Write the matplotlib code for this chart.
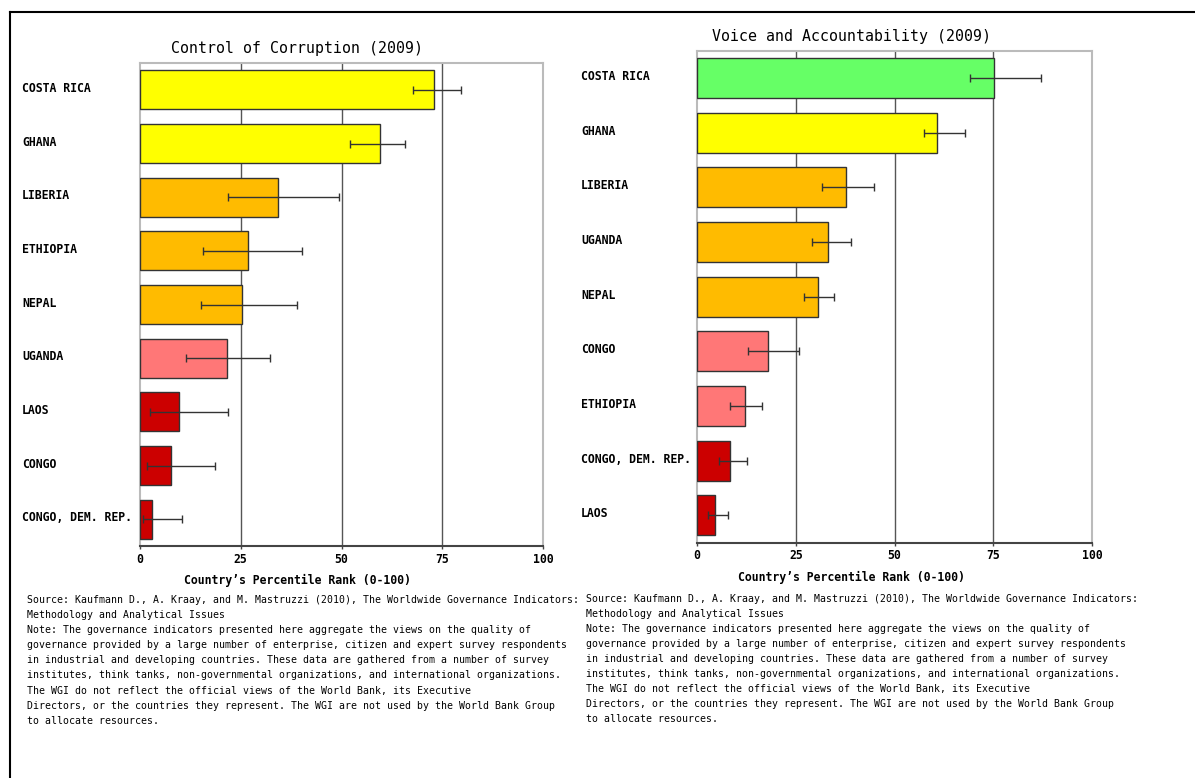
import matplotlib
matplotlib.use("Agg")
import matplotlib.pyplot as plt
from matplotlib.lines import Line2D
from matplotlib.transforms import blended_transform_factory, ScaledTranslation

W, H, DPI = 1195, 778, 100

# Control of Corruption (2009): percentile rank with margin-of-error bounds
cc_countries = ["COSTA RICA", "GHANA", "LIBERIA", "ETHIOPIA", "NEPAL",
                "UGANDA", "LAOS", "CONGO", "CONGO, DEM. REP."]
cc_rank = [73.0, 59.6, 34.2, 26.7, 25.2, 21.5, 9.7, 7.6, 2.9]
cc_low = [67.8, 52.1, 21.8, 15.6, 15.1, 11.3, 2.4, 1.8, 0.8]
cc_high = [79.7, 65.8, 49.4, 40.2, 38.9, 32.3, 21.8, 18.6, 10.3]

# Voice and Accountability (2009)
va_countries = ["COSTA RICA", "GHANA", "LIBERIA", "UGANDA", "NEPAL",
                "CONGO", "ETHIOPIA", "CONGO, DEM. REP.", "LAOS"]
va_rank = [75.3, 60.7, 37.8, 33.1, 30.6, 17.9, 12.2, 8.4, 4.5]
va_low = [69.1, 57.5, 31.7, 29.1, 27.1, 12.8, 8.4, 5.5, 2.7]
va_high = [87.0, 67.9, 44.7, 39.0, 34.8, 25.8, 16.4, 12.7, 7.9]

x_ticks = [0, 25, 50, 75, 100]
axis_label = "Country\u2019s Percentile Rank (0-100)"

note_lines = [
    "Source: Kaufmann D., A. Kraay, and M. Mastruzzi (2010), The Worldwide Governance Indicators:",
    "Methodology and Analytical Issues",
    "Note: The governance indicators presented here aggregate the views on the quality of",
    "governance provided by a large number of enterprise, citizen and expert survey respondents",
    "in industrial and developing countries. These data are gathered from a number of survey",
    "institutes, think tanks, non-governmental organizations, and international organizations.",
    "The WGI do not reflect the official views of the World Bank, its Executive",
    "Directors, or the countries they represent. The WGI are not used by the World Bank Group",
    "to allocate resources.",
]

# percentile bands and their colours
band_edges = [10, 25, 50, 75]
band_colors = ["#CC0000", "#FF7777", "#FFBB00", "#FFFF00", "#66FF66"]

MONO = "DejaVu Sans Mono"


def band_color(v):
    for edge, c in zip(band_edges, band_colors):
        if v < edge:
            return c
    return band_colors[-1]


def px(x, y):
    return x / W, 1 - y / H


fig = plt.figure(figsize=(W / DPI, H / DPI), dpi=DPI)
fig.patch.set_facecolor("white")


def draw_panel(rect, countries, rank, low, high, title, title_xy,
               xlabel_xy, label_x, notes_xy):
    ax = fig.add_axes(rect)
    n = len(countries)
    pos = list(range(n))
    colors = [band_color(v) for v in rank]
    ax.barh(pos, rank, height=0.73, color=colors, edgecolor="#333333",
            linewidth=1.0, zorder=3)
    err = [[r - lo for r, lo in zip(rank, low)],
           [hi - r for r, hi in zip(rank, high)]]
    ax.errorbar(rank, pos, xerr=err, fmt="none", ecolor="#333333",
                elinewidth=1.0, capsize=2.6, capthick=1.0, zorder=4)
    for t in x_ticks[1:-1]:
        ax.axvline(t, color="#555555", lw=1.0, zorder=1)
    ax.set_xlim(x_ticks[0], x_ticks[-1])
    ax.set_ylim(n - 0.5, -0.5)
    ax.set_xticks(x_ticks)
    ax.set_xticklabels([str(t) for t in x_ticks], fontfamily=MONO,
                       fontweight="bold", fontsize=8.3)
    ax.set_yticks([])
    ax.tick_params(axis="x", direction="out", length=2.2, width=1.0,
                   color="#444444", pad=2.6)
    for side in ("top", "right", "left"):
        ax.spines[side].set_color("#BBBBBB")
        ax.spines[side].set_linewidth(1.5)
    ax.spines["bottom"].set_color("#444444")
    ax.spines["bottom"].set_linewidth(1.5)

    tr = blended_transform_factory(fig.transFigure, ax.transData) + \
        ScaledTranslation(0, 1.5 / DPI, fig.dpi_scale_trans)
    for i, name in enumerate(countries):
        ax.text(label_x / W, i, name, transform=tr, ha="left", va="center",
                fontfamily=MONO, fontweight="bold", fontsize=8.3)

    fig.text(*px(*title_xy), title, ha="center", va="center",
             fontfamily=MONO, fontsize=10.7)
    fig.text(*px(*xlabel_xy), axis_label, ha="center", va="center",
             fontfamily=MONO, fontweight="bold", fontsize=8.3)
    nx, ny = notes_xy
    for k, line in enumerate(note_lines):
        fig.text(*px(nx, ny + 15.1 * k), line, ha="left", va="center",
                 fontfamily=MONO, fontsize=7.1)
    return ax


draw_panel([140 / W, 1 - 546 / H, 403 / W, 483 / H],
           cc_countries, cc_rank, cc_low, cc_high,
           "Control of Corruption (2009)", (297, 49), (297, 580), 22,
           (27, 600))

draw_panel([697 / W, 1 - 542.7 / H, 395 / W, 492 / H],
           va_countries, va_rank, va_low, va_high,
           "Voice and Accountability (2009)", (851, 36), (851, 577), 581,
           (586, 598.5))

# page frame
fig.add_artist(Line2D([10 / W, 10 / W], [0, 1 - 12 / H], color="black",
                      lw=1.5, transform=fig.transFigure))
fig.add_artist(Line2D([10 / W, 1], [1 - 12 / H, 1 - 12 / H], color="black",
                      lw=1.5, transform=fig.transFigure))

fig.savefig("out.png", dpi=DPI, facecolor="white")
